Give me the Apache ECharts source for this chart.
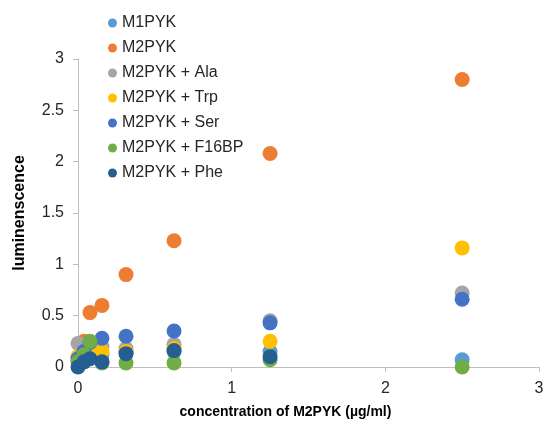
<!DOCTYPE html>
<html>
<head>
<meta charset="utf-8">
<script src="https://cdn.jsdelivr.net/npm/echarts@6/dist/echarts.min.js"></script>
<style>
  html, body { margin: 0; padding: 0; background: #fff; }
  #chart { width: 545px; height: 428px; }
</style>
</head>
<body>
<div id="chart"></div>
<script>
// Two-fold dilution series of enzyme concentration (µg/ml)
const concentrations = [0, 0.039, 0.078, 0.156, 0.3125, 0.625, 1.25, 2.5];

// Luminescence readings per condition (null = no reading)
const m1pyk     = [0.05, 0.07, 0.10, 0.12, 0.14, 0.15, 0.15, 0.07];
const m2pyk     = [0.10, 0.25, 0.53, 0.60, 0.90, 1.23, 2.08, 2.80];
const m2pykAla  = [0.23, 0.20, 0.22, 0.20, 0.18, 0.22, 0.45, 0.72];
const m2pykTrp  = [0.10, 0.12, 0.14, 0.15, 0.15, 0.18, 0.25, 1.16];
const m2pykSer  = [0.08, 0.15, 0.24, 0.28, 0.30, 0.35, 0.43, 0.66];
const m2pykF16  = [0.05, 0.12, 0.25, 0.04, 0.04, 0.04, 0.07, 0.00];
const m2pykPhe  = [0.00, 0.05, 0.08, 0.05, 0.13, 0.16, 0.10, null];

const seriesNames = ['M1PYK', 'M2PYK', 'M2PYK + Ala', 'M2PYK + Trp', 'M2PYK + Ser', 'M2PYK + F16BP', 'M2PYK + Phe'];
const seriesValues = [m1pyk, m2pyk, m2pykAla, m2pykTrp, m2pykSer, m2pykF16, m2pykPhe];
const seriesColors = ['#5B9BD5', '#ED7D31', '#A5A5A5', '#FFC000', '#4472C4', '#70AD47', '#255E91'];

const yTicks = [0, 0.5, 1, 1.5, 2, 2.5, 3];
const xTicks = [0, 1, 2, 3];

function pairs(values) {
  const out = [];
  values.forEach((v, i) => { if (v !== null) out.push([concentrations[i], v]); });
  return out;
}

const chart = echarts.init(document.getElementById('chart'), null, { renderer: 'canvas' });

const axisGrey = '#BFBFBF';
const labelFont = 'Liberation Sans, Arial, sans-serif';

chart.setOption({
  animation: false,
  backgroundColor: '#ffffff',
  grid: { left: 78, right: 6, top: 59, bottom: 61, containLabel: false, outerBoundsMode: 'none' },
  legend: {
    orient: 'vertical',
    left: 108,
    top: 14,
    padding: 0,
    icon: 'circle',
    itemWidth: 9,
    itemHeight: 9,
    itemGap: 7,
    textStyle: { fontFamily: labelFont, fontSize: 16, color: '#262626', lineHeight: 18 },
    data: seriesNames
  },
  xAxis: {
    type: 'value',
    min: xTicks[0],
    max: xTicks[xTicks.length - 1],
    interval: 1,
    name: 'concentration of M2PYK (µg/ml)',
    nameLocation: 'middle',
    nameGap: 38,
    nameTextStyle: { fontFamily: labelFont, fontSize: 14, fontWeight: 'bold', color: '#000', padding: [0, 46, 0, 0] },
    axisLine: { show: true, lineStyle: { color: axisGrey, width: 1 } },
    axisTick: { show: true, length: 5, lineStyle: { color: axisGrey } },
    axisLabel: { fontFamily: labelFont, fontSize: 16, color: '#262626', margin: 14 },
    splitLine: { show: false }
  },
  yAxis: {
    type: 'value',
    min: yTicks[0],
    max: yTicks[yTicks.length - 1],
    interval: 0.5,
    name: 'luminenscence',
    nameLocation: 'middle',
    nameGap: 42,
    nameTextStyle: { fontFamily: labelFont, fontSize: 16, fontWeight: 'bold', color: '#000', padding: [0, 0, 8, 0] },
    axisLine: { show: true, lineStyle: { color: axisGrey, width: 1 } },
    axisTick: { show: true, length: 5, lineStyle: { color: axisGrey } },
    axisLabel: { fontFamily: labelFont, fontSize: 16, color: '#262626', margin: 14 },
    splitLine: { show: false }
  },
  series: seriesNames.map((name, i) => ({
    name: name,
    type: 'scatter',
    symbol: 'circle',
    symbolSize: 15,
    itemStyle: { color: seriesColors[i], opacity: 1 },
    data: pairs(seriesValues[i])
  }))
});
</script>
</body>
</html>
